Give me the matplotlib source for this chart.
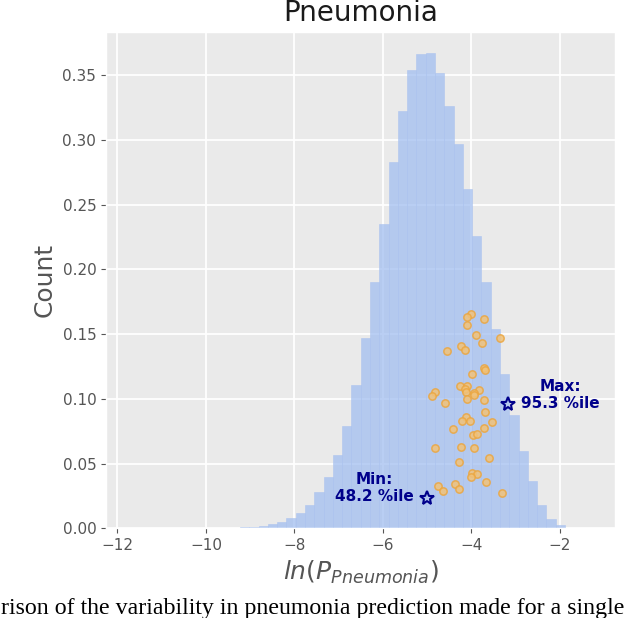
import numpy as np
import matplotlib
matplotlib.use('Agg')
import matplotlib.pyplot as plt

# ------------------------------------------------------------------------
# histogram of ln(P) over the population (density, 50 bins)
bin_start = -11.75
bin_width = 0.21
hist_heights = [0.00005, 0.0, 0.0, 0.0, 0.0, 0.00005, 0.00005, 0.0001, 0.0001, 0.0002,
                0.0003, 0.0004, 0.0007, 0.0010, 0.0018, 0.0031, 0.0049, 0.0077, 0.0118, 0.0183,
                0.0278, 0.0396, 0.0566, 0.0791, 0.1110, 0.1470, 0.1900, 0.2350, 0.2830, 0.3225,
                0.3540, 0.3660, 0.3670, 0.3520, 0.3260, 0.2965, 0.2620, 0.2257, 0.1906, 0.1540,
                0.1190, 0.0873, 0.0598, 0.0366, 0.0178, 0.0072, 0.0023, 0.0005, 0.0002, 0.0001]

# predictions for the single image (x = ln(P), y = jitter)
pt_x = [-4.010, -4.085, -3.723, -4.085, -3.891, -3.339, -3.755, -4.243, -4.146, -4.559,
        -3.717, -3.679, -3.981, -4.259, -4.107, -4.146, -4.123, -4.817, -3.823, -3.936,
        -3.936, -4.898, -3.701, -4.107, -4.598, -3.687, -4.130, -4.214, -4.033, -3.536,
        -4.410, -3.710, -3.958, -3.868, -4.824, -4.236, -3.936, -3.588, -4.288, -3.988,
        -3.859, -3.995, -3.656, -4.763, -4.372, -4.288, -4.643, -3.294]
pt_y = [0.1654, 0.1633, 0.1613, 0.1571, 0.1494, 0.1466, 0.1432, 0.1409, 0.1378, 0.1370,
        0.1242, 0.1226, 0.1192, 0.1103, 0.1100, 0.1074, 0.1053, 0.1049, 0.1066, 0.1046,
        0.1033, 0.1020, 0.0991, 0.0997, 0.0968, 0.0899, 0.0863, 0.0832, 0.0832, 0.0819,
        0.0767, 0.0778, 0.0721, 0.0732, 0.0618, 0.0628, 0.0624, 0.0543, 0.0512, 0.0427,
        0.0423, 0.0396, 0.0358, 0.0327, 0.0342, 0.0307, 0.0286, 0.0273]

# min / max markers
star_x = {'Min': -5.011, 'Max': -3.168}
star_y = {'Min': 0.0237, 'Max': 0.0958}
star_pct = {'Min': 48.2, 'Max': 95.3}

x_ticks = [-12, -10, -8, -6, -4, -2]
y_ticks = [0.00, 0.05, 0.10, 0.15, 0.20, 0.25, 0.30, 0.35]

caption = 'rison of the variability in pneumonia prediction made for a single'

# ------------------------------------------------------------------------
plt.style.use('ggplot')
plt.rcParams['mathtext.fontset'] = 'dejavusans'

fig = plt.figure(figsize=(6.4, 6.18), dpi=100)
ax = fig.add_axes([0.1656, 0.1451, 0.7953, 0.8025])
ax.set_facecolor('#eaeaea')

n_bins = len(hist_heights)
edges = bin_start + bin_width * np.arange(n_bins + 1)
centers = 0.5 * (edges[:-1] + edges[1:])
ax.hist(centers, bins=edges, weights=hist_heights, color='#a3bff0', alpha=0.75,
        edgecolor='#abc3ee', linewidth=0.5, zorder=2)

ax.scatter(pt_x, pt_y, s=28, facecolors='#f1c27a', edgecolors='#eba640',
           alpha=0.85, linewidths=1.1, zorder=3)

for k in ['Min', 'Max']:
    ax.plot(star_x[k], star_y[k], marker='*', ms=10, mfc='none', mec='#00008b',
            mew=1.5, zorder=4)
    dx = 37.5 if k == 'Max' else -37.5
    ax.annotate('%s:\n%.1f %%ile' % (k, star_pct[k]), (star_x[k], star_y[k]),
                xytext=(dx, 6.8), textcoords='offset points', ha='center', va='center',
                multialignment='center', fontsize=11, fontweight='bold', color='#00008b',
                zorder=5)

ax.set_xlim(-12.26, -0.75)
ax.set_ylim(0, 0.383)
ax.set_xticks(x_ticks)
ax.set_yticks(y_ticks)
ax.set_yticklabels(['%.2f' % v for v in y_ticks])
ax.tick_params(labelsize=11)
ax.grid(True, color='white', linewidth=1.3)

ax.set_title('Pneumonia', fontsize=20, color='#1a1a1a', pad=8)
ax.set_ylabel('Count', fontsize=18, color='#555555')
ax.set_xlabel(r'$ln(P_{Pneumonia})$', fontsize=18, color='#555555', labelpad=4)

fig.text(0.002, 0.0065, caption, family='Liberation Serif', fontsize=17.2,
         color='black', ha='left', va='baseline')

fig.savefig('out.png', dpi=100)
